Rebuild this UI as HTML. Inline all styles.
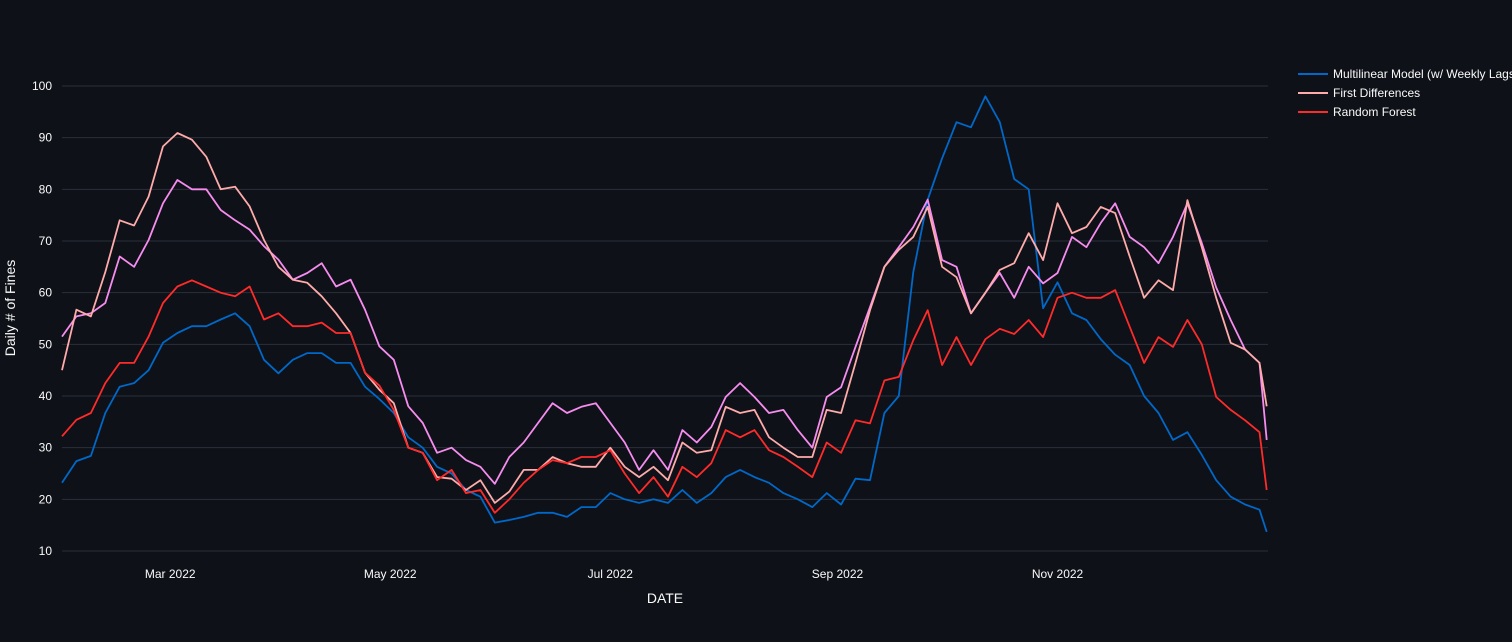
<!DOCTYPE html>
<html><head><meta charset="utf-8">
<style>
html,body{margin:0;padding:0;background:#0e1117;}
body{width:1512px;height:637px;overflow:hidden;font-family:"Liberation Sans",sans-serif;}
svg text{font-family:"Liberation Sans",sans-serif;}
</style></head>
<body>
<svg id="chart" width="1512" height="637" xmlns="http://www.w3.org/2000/svg">
<rect x="0" y="0" width="1512" height="637" fill="#0e1117"/>
<g id="grid"></g>
<g id="yticks"></g>
<g id="xticks"></g>
<g id="series"></g>
<text x="665" y="603" fill="#fafafa" font-size="14" text-anchor="middle">DATE</text>
<text transform="translate(15,308) rotate(-90)" fill="#fafafa" font-size="14" text-anchor="middle">Daily # of Fines</text>
<g>
<g>
<line x1="1298" y1="74" x2="1328" y2="74" stroke="#0068c9" stroke-width="2"/>
<text x="1333" y="78" fill="#fafafa" font-size="12">Multilinear Model (w/ Weekly Lags)</text></g>
<g>
<line x1="1298" y1="93" x2="1328" y2="93" stroke="#ffabab" stroke-width="2"/>
<text x="1333" y="97" fill="#fafafa" font-size="12">First Differences</text></g>
<g>
<line x1="1298" y1="112" x2="1328" y2="112" stroke="#ff2b2b" stroke-width="2"/>
<text x="1333" y="116" fill="#fafafa" font-size="12">Random Forest</text></g>
</g>
</svg>
<script>
const yTicks = [10,20,30,40,50,60,70,80,90,100];
const xTickLabels = ["Mar 2022","May 2022","Jul 2022","Sep 2022","Nov 2022"];
const xTickDays = [30,91,152,215,276];
const multilinear = [23.2,27.4,28.4,36.7,41.8,42.5,45,50.3,52.2,53.5,53.5,54.8,56,53.5,47,44.4,47,48.3,48.3,46.4,46.4,41.8,39.4,
36.7,32,30,26.3,25,21.8,20.5,15.5,16,16.6,17.4,17.4,16.6,18.5,18.5,21.2,20,19.3,20,19.3,21.8,19.3,21.2,24.3,25.7,24.3,23.2,21.2,20,18.5,21.2,
19,24,23.7,36.7,40,64,78,86,93,92,98,93,82,80,57,62,56,54.7,51,48,46,40,36.7,31.5,33,28.6,23.7,20.5,19,18,13.7];
const firstDiff = [45,56.7,55.4,64,74,73,78.6,88.3,90.9,89.6,86.3,80,80.5,76.7,70.2,65,62.5,61.9,59.3,56,52.2,44.5,41.2,
38.6,30,29,24.3,24,21.8,23.7,19.3,21.5,25.7,25.7,28.2,27,26.3,26.3,30,26.3,24.3,26.3,23.7,31,29,29.5,37.9,36.7,37.3,32,30,28.2,28.2,37.3,
36.7,46.4,56.6,65,68.3,70.8,76.6,65,63,56,60,64.4,65.7,71.5,66.3,77.3,71.5,72.7,76.6,75.4,67,59,62.4,60.5,77.9,68.8,59,50.3,49,46.4,38];
const randomForest = [32.2,35.4,36.7,42.5,46.4,46.4,51.5,58,61.2,62.4,61.2,60,59.3,61.2,54.8,56,53.5,53.5,54.2,52.2,52.2,44.5,42,
37.3,30,29,23.7,25.7,21.2,21.8,17.4,20,23.2,25.7,27.6,27,28.2,28.2,29.5,25,21.2,24.3,20.5,26.3,24.3,27,33.4,32,33.4,29.5,28.2,26.3,24.3,31,
29,35.3,34.7,43,43.7,50.8,56.6,46,51.4,46,51,53,52,54.7,51.4,59,60,59,59,60.5,53.4,46.4,51.4,49.5,54.7,50,39.8,37.3,35.3,33,21.8];
const fourthSeries = [51.5,55.4,56,58,67,65,70.2,77.3,81.8,80,80,76,74,72.2,69,66.4,62.5,63.8,65.7,61.2,62.5,56.7,49.6,
47,38,34.8,29,30,27.6,26.3,23,28.2,31,34.8,38.6,36.7,37.9,38.6,34.8,31,25.7,29.5,25.7,33.4,31,34,39.8,42.5,39.8,36.7,37.3,33.4,30,39.8,
41.7,49.5,57.2,65,68.8,72.7,78,66.3,65,56,60,63.8,59,65,61.8,63.8,70.8,68.8,73.5,77.3,70.8,68.8,65.7,70.8,77.3,69.6,61,54.7,49,46.4,31.5];
// category days (day offset from 2022-01-30), every 4 days, last = 334
const days = [];
for (let i = 0; i < 84; i++) days.push(i * 4);
days.push(334);

const X0 = 62, PXD = 3.607;
function xs(d){ return X0 + d * PXD; }
function ys(v){ return 551 - (v - 10) * 5.1667; }
const NS = "http://www.w3.org/2000/svg";
const grid = document.getElementById('grid');
const yt = document.getElementById('yticks');
yTicks.forEach(t => {
  const l = document.createElementNS(NS,'line');
  l.setAttribute('x1',62); l.setAttribute('x2',1268);
  l.setAttribute('y1',ys(t)); l.setAttribute('y2',ys(t));
  l.setAttribute('stroke','#2a2f3a'); l.setAttribute('stroke-width','1');
  
  
  grid.appendChild(l);
  const tx = document.createElementNS(NS,'text');
  tx.setAttribute('x',52); tx.setAttribute('y',ys(t)+4);
  tx.setAttribute('fill','#fafafa'); tx.setAttribute('font-size','12');
  tx.setAttribute('text-anchor','end');
  
  
  tx.textContent = t;
  yt.appendChild(tx);
});
const xt = document.getElementById('xticks');
xTickLabels.forEach((lab,i) => {
  const tx = document.createElementNS(NS,'text');
  tx.setAttribute('x',xs(xTickDays[i])); tx.setAttribute('y',578);
  tx.setAttribute('fill','#fafafa'); tx.setAttribute('font-size','12');
  tx.setAttribute('text-anchor','middle');
  
  
  tx.textContent = lab;
  xt.appendChild(tx);
});
const sg = document.getElementById('series');
function drawLine(vals,color,name){
  const p = document.createElementNS(NS,'path');
  let d = '';
  vals.forEach((v,i)=>{ d += (i?'L':'M') + xs(days[i]).toFixed(1) + ',' + ys(v).toFixed(1); });
  p.setAttribute('d',d); p.setAttribute('fill','none');
  p.setAttribute('stroke',color); p.setAttribute('stroke-width','1.8');
  p.setAttribute('stroke-linejoin','round');
  
  
  sg.appendChild(p);
}
drawLine(multilinear,'#0068c9','line-multilinear');
drawLine(fourthSeries,'#f78cf0','line-fourth-model');
drawLine(firstDiff,'#ffabab','line-first-differences');
drawLine(randomForest,'#ff2b2b','line-random-forest');
</script>
</body></html>
